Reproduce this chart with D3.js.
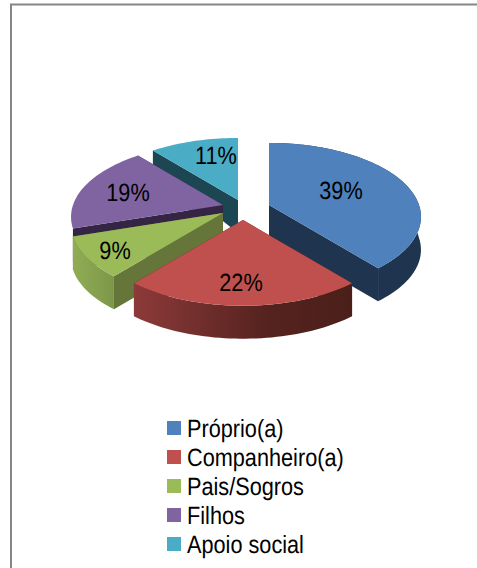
<!DOCTYPE html>
<html>
<head>
<meta charset="utf-8">
<script src="https://cdn.jsdelivr.net/npm/d3@7"></script>
<style>
  html, body { margin: 0; padding: 0; background: #fff; }
  svg { display: block; font-family: "Liberation Sans", Arial, sans-serif; text-rendering: geometricPrecision; }
</style>
</head>
<body>
<div id="chart"></div>
<script>
const categories = ['Próprio(a)', 'Companheiro(a)', 'Pais/Sogros', 'Filhos', 'Apoio social'];
const values = [39, 22, 9, 19, 11];
const colors = ['#4f81bd', '#c0504d', '#9bbb59', '#8064a2', '#4bacc6'];
const wallColors = ['#1f344f', '#4f201e', '#66763a', '#352544', '#1d4653'];

const width = 477, height = 568;
const center = {x: 245, y: 205};
const rx = 150, ry = 72, persp = 0.16, wall = 33;

// how far each slice is pulled out of the pie, and its label offset from the slice tip
const offsets = [[24, 0], [-2, 15], [-22, 8], [-22, 0], [-7, -5]];
const labelOffsets = [[72, -15], [-2, 62], [-108, 37], [-95, -13], [-22, -45]];
// back slices first so the front ones cover them
const drawOrder = [4, 3, 2, 0, 1];
// the rim of the back slices does not show in the picture
const rimSlices = [0, 1, 2];

const svg = d3.select('#chart').append('svg')
    .attr('width', width)
    .attr('height', height);

const defs = svg.append('defs');

function addGradient(id, stops) {
    const g = defs.append('linearGradient').attr('id', id);
    stops.forEach(function(s) {
        g.append('stop').attr('offset', s[0]).attr('stop-color', s[1]);
    });
}

addGradient('side-0', [[0, '#1f344f'], [1, '#1f344f']]);
addGradient('side-1', [[0, '#8c3a39'], [0.6, '#56231f'], [1, '#4a1f1a']]);
addGradient('side-2', [[0, '#90ad55'], [1, '#7d9749']]);

// chart frame, cut by the picture on the right and at the bottom
svg.append('path')
    .attr('d', d3.line()([[11, height], [11, 4.5], [width, 4.5]]))
    .attr('fill', 'none')
    .attr('stroke', '#868686')
    .attr('stroke-width', 2);

const pie = d3.pie().sort(null).value(function(d) { return d; });
const arcs = pie(values);

// tilted pie with a little perspective: things at the front are larger
function project(slice, angle, frac, drop) {
    const depth = -Math.cos(angle) * frac;
    const s = 1 / (1 - persp * depth);
    const h = drop ? wall * (1 + 0.7 * Math.min(depth, 0)) : 0;
    return [
        center.x + offsets[slice][0] + rx * Math.sin(angle) * frac * s,
        center.y + offsets[slice][1] + ry * depth * s + h
    ];
}

function arcPoints(slice, a0, a1, drop) {
    const n = Math.max(2, Math.ceil((a1 - a0) / 0.03));
    return d3.range(n + 1).map(function(i) {
        return project(slice, a0 + (a1 - a0) * i / n, 1, drop);
    });
}

const line = d3.line();
const pies = svg.append('g');

drawOrder.forEach(function(i) {
    const a = arcs[i];
    const g = pies.append('g');
    const tip = project(i, 0, 0, false);
    const tipLow = project(i, 0, 0, true);
    const top = arcPoints(i, a.startAngle, a.endAngle, false);
    const low = arcPoints(i, a.startAngle, a.endAngle, true);

    // radial walls
    [[top[0], low[0]], [top[top.length - 1], low[low.length - 1]]].forEach(function(e) {
        g.append('path')
            .attr('d', line([tip, e[0], e[1], tipLow]) + 'Z')
            .attr('fill', wallColors[i]);
    });

    // rim
    if (rimSlices.includes(i)) {
        g.append('path')
            .attr('d', line(top.concat(low.slice().reverse())) + 'Z')
            .attr('fill', 'url(#side-' + i + ')');
    }

    // top face
    g.append('path')
        .attr('d', line([tip].concat(top)) + 'Z')
        .attr('fill', colors[i]);
});

// the source image is stretched vertically, so the text is too
const textStretch = 1.15;

function stretchedText(parent, x, y, size, anchor, str) {
    parent.append('text')
        .attr('transform', 'translate(' + x + ',' + y + ') scale(1,' + textStretch + ')')
        .attr('text-anchor', anchor)
        .attr('font-size', size)
        .attr('fill', '#000')
        .text(str);
}

const labels = svg.append('g');
values.forEach(function(v, i) {
    const tip = project(i, 0, 0, false);
    stretchedText(labels, tip[0] + labelOffsets[i][0], tip[1] + labelOffsets[i][1] + 9, 21.7, 'middle', v + '%');
});

const legendRow = d3.scalePoint().domain(categories).range([428, 544]);
const legend = svg.append('g');
categories.forEach(function(c, i) {
    legend.append('rect')
        .attr('x', 167)
        .attr('y', legendRow(c) - 7)
        .attr('width', 14)
        .attr('height', 14)
        .attr('fill', colors[i]);
    stretchedText(legend, 187, legendRow(c) + 9, 21.7, 'start', c);
});
</script>
</body>
</html>
